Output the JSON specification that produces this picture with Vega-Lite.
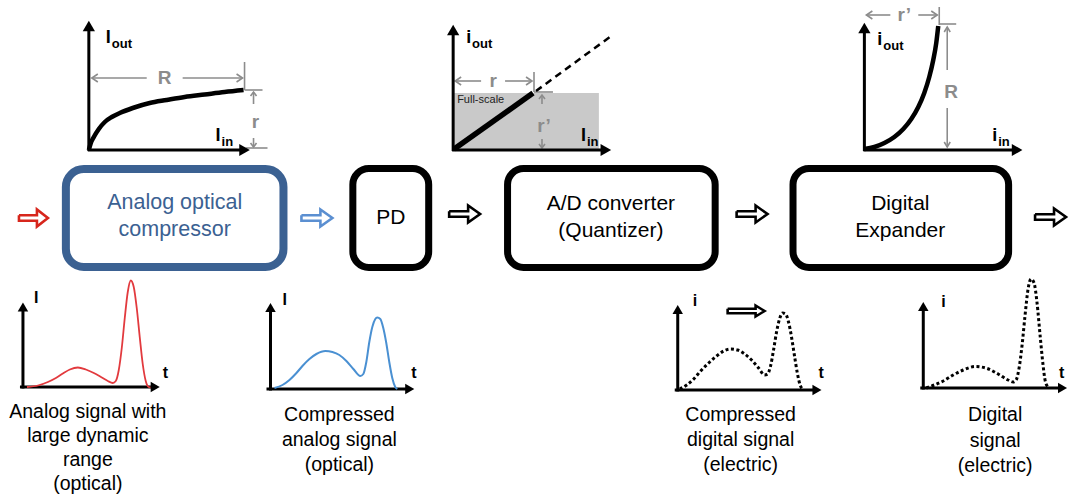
{
  "$schema": "https://vega.github.io/schema/vega-lite/v6.json",
  "width": 1072,
  "height": 500,
  "padding": 0,
  "autosize": {"type": "fit", "contains": "padding"},
  "background": "white",
  "config": {"view": {"stroke": null}, "text": {"font": "Liberation Sans"}},
  "datasets": {
    "boxes": [
      {"g": "gr", "x": 455, "x2": 600, "y": 93, "y2": 150},
      {"g": "bb", "x": 66, "x2": 284, "y": 169, "y2": 267},
      {"g": "bk", "x": 353.5, "x2": 429.5, "y": 168.5, "y2": 267.5},
      {"g": "bk", "x": 508.5, "x2": 716.5, "y": 168.5, "y2": 267.5},
      {"g": "bk", "x": 794.5, "x2": 1010.5, "y": 168.5, "y2": 267.5}
    ],
    "seg": [
      {"g": "ax", "id": "a1", "k": 0, "x": 89, "y": 151}, {"g": "ax", "id": "a1", "k": 1, "x": 89, "y": 30},
      {"g": "ax", "id": "a2", "k": 0, "x": 88, "y": 150}, {"g": "ax", "id": "a2", "k": 1, "x": 241, "y": 150},
      {"g": "ax", "id": "a3", "k": 0, "x": 454, "y": 151}, {"g": "ax", "id": "a3", "k": 1, "x": 454, "y": 34},
      {"g": "ax", "id": "a4", "k": 0, "x": 453, "y": 150}, {"g": "ax", "id": "a4", "k": 1, "x": 603, "y": 150},
      {"g": "ax", "id": "a5", "k": 0, "x": 866, "y": 151}, {"g": "ax", "id": "a5", "k": 1, "x": 866, "y": 32},
      {"g": "ax", "id": "a6", "k": 0, "x": 865, "y": 150}, {"g": "ax", "id": "a6", "k": 1, "x": 1015, "y": 150},
      {"g": "ax", "id": "a7", "k": 0, "x": 23, "y": 388.5}, {"g": "ax", "id": "a7", "k": 1, "x": 23, "y": 310},
      {"g": "ax", "id": "a8", "k": 0, "x": 20, "y": 387}, {"g": "ax", "id": "a8", "k": 1, "x": 152, "y": 387},
      {"g": "ax", "id": "a9", "k": 0, "x": 271, "y": 390.5}, {"g": "ax", "id": "a9", "k": 1, "x": 271, "y": 311},
      {"g": "ax", "id": "a10", "k": 0, "x": 267, "y": 389}, {"g": "ax", "id": "a10", "k": 1, "x": 407, "y": 389},
      {"g": "ax", "id": "a11", "k": 0, "x": 679, "y": 391.5}, {"g": "ax", "id": "a11", "k": 1, "x": 679, "y": 313},
      {"g": "ax", "id": "a12", "k": 0, "x": 676, "y": 390}, {"g": "ax", "id": "a12", "k": 1, "x": 815, "y": 390},
      {"g": "ax", "id": "a13", "k": 0, "x": 925, "y": 389.5}, {"g": "ax", "id": "a13", "k": 1, "x": 925, "y": 310},
      {"g": "ax", "id": "a14", "k": 0, "x": 922, "y": 388}, {"g": "ax", "id": "a14", "k": 1, "x": 1061, "y": 388},

      {"g": "th", "id": "t1", "k": 0, "x": 455, "y": 149}, {"g": "th", "id": "t1", "k": 1, "x": 534, "y": 93},
      {"g": "dash", "id": "d1", "k": 0, "x": 537, "y": 91}, {"g": "dash", "id": "d1", "k": 1, "x": 611, "y": 37},

      {"g": "cv", "id": "c1", "k": 0, "x": 89, "y": 150},
      {"g": "cv", "id": "c1", "k": 1, "x": 91, "y": 143},
      {"g": "cv", "id": "c1", "k": 2, "x": 94, "y": 137},
      {"g": "cv", "id": "c1", "k": 3, "x": 99, "y": 129},
      {"g": "cv", "id": "c1", "k": 4, "x": 105, "y": 122},
      {"g": "cv", "id": "c1", "k": 5, "x": 112, "y": 117},
      {"g": "cv", "id": "c1", "k": 6, "x": 120, "y": 113},
      {"g": "cv", "id": "c1", "k": 7, "x": 133, "y": 108},
      {"g": "cv", "id": "c1", "k": 8, "x": 150, "y": 103},
      {"g": "cv", "id": "c1", "k": 9, "x": 167, "y": 100},
      {"g": "cv", "id": "c1", "k": 10, "x": 185, "y": 97},
      {"g": "cv", "id": "c1", "k": 11, "x": 205, "y": 94.5},
      {"g": "cv", "id": "c1", "k": 12, "x": 225, "y": 92},
      {"g": "cv", "id": "c1", "k": 13, "x": 244, "y": 90},
      {"g": "cv", "id": "c3", "k": 0, "x": 866, "y": 149},
      {"g": "cv", "id": "c3", "k": 1, "x": 876, "y": 147},
      {"g": "cv", "id": "c3", "k": 2, "x": 886, "y": 143},
      {"g": "cv", "id": "c3", "k": 3, "x": 896, "y": 137},
      {"g": "cv", "id": "c3", "k": 4, "x": 905, "y": 129},
      {"g": "cv", "id": "c3", "k": 5, "x": 913, "y": 119},
      {"g": "cv", "id": "c3", "k": 6, "x": 920, "y": 107},
      {"g": "cv", "id": "c3", "k": 7, "x": 926, "y": 93},
      {"g": "cv", "id": "c3", "k": 8, "x": 931, "y": 77},
      {"g": "cv", "id": "c3", "k": 9, "x": 935, "y": 60},
      {"g": "cv", "id": "c3", "k": 10, "x": 938, "y": 43},
      {"g": "cv", "id": "c3", "k": 11, "x": 940, "y": 26},

      {"g": "gray", "id": "g1", "k": 0, "x": 92, "y": 78}, {"g": "gray", "id": "g1", "k": 1, "x": 147, "y": 78},
      {"g": "gray", "id": "g2", "k": 0, "x": 183, "y": 78}, {"g": "gray", "id": "g2", "k": 1, "x": 243, "y": 78},
      {"g": "gray", "id": "g3", "k": 0, "x": 98, "y": 74}, {"g": "gray", "id": "g3", "k": 1, "x": 92, "y": 78}, {"g": "gray", "id": "g3", "k": 2, "x": 98, "y": 82},
      {"g": "gray", "id": "g4", "k": 0, "x": 237, "y": 74}, {"g": "gray", "id": "g4", "k": 1, "x": 243, "y": 78}, {"g": "gray", "id": "g4", "k": 2, "x": 237, "y": 82},
      {"g": "gray", "id": "g5", "k": 0, "x": 245, "y": 62}, {"g": "gray", "id": "g5", "k": 1, "x": 245, "y": 90},
      {"g": "gray", "id": "g6", "k": 0, "x": 245, "y": 90}, {"g": "gray", "id": "g6", "k": 1, "x": 263, "y": 90},
      {"g": "gray", "id": "g7", "k": 0, "x": 246, "y": 148}, {"g": "gray", "id": "g7", "k": 1, "x": 268, "y": 148},
      {"g": "gray", "id": "g8", "k": 0, "x": 254, "y": 104}, {"g": "gray", "id": "g8", "k": 1, "x": 254, "y": 92},
      {"g": "gray", "id": "g9", "k": 0, "x": 251, "y": 96}, {"g": "gray", "id": "g9", "k": 1, "x": 254, "y": 92}, {"g": "gray", "id": "g9", "k": 2, "x": 257, "y": 96},
      {"g": "gray", "id": "g10", "k": 0, "x": 254, "y": 138}, {"g": "gray", "id": "g10", "k": 1, "x": 254, "y": 147},
      {"g": "gray", "id": "g11", "k": 0, "x": 251, "y": 143}, {"g": "gray", "id": "g11", "k": 1, "x": 254, "y": 147}, {"g": "gray", "id": "g11", "k": 2, "x": 257, "y": 143},

      {"g": "gray", "id": "h1", "k": 0, "x": 456, "y": 81}, {"g": "gray", "id": "h1", "k": 1, "x": 482, "y": 81},
      {"g": "gray", "id": "h2", "k": 0, "x": 506, "y": 81}, {"g": "gray", "id": "h2", "k": 1, "x": 533, "y": 81},
      {"g": "gray", "id": "h3", "k": 0, "x": 462, "y": 77}, {"g": "gray", "id": "h3", "k": 1, "x": 456, "y": 81}, {"g": "gray", "id": "h3", "k": 2, "x": 462, "y": 85},
      {"g": "gray", "id": "h4", "k": 0, "x": 527, "y": 77}, {"g": "gray", "id": "h4", "k": 1, "x": 533, "y": 81}, {"g": "gray", "id": "h4", "k": 2, "x": 527, "y": 85},
      {"g": "gray", "id": "h5", "k": 0, "x": 535, "y": 72}, {"g": "gray", "id": "h5", "k": 1, "x": 535, "y": 92},
      {"g": "gray", "id": "h6", "k": 0, "x": 535, "y": 92}, {"g": "gray", "id": "h6", "k": 1, "x": 554, "y": 92},
      {"g": "gray", "id": "h7", "k": 0, "x": 543, "y": 104}, {"g": "gray", "id": "h7", "k": 1, "x": 543, "y": 95},
      {"g": "gray", "id": "h8", "k": 0, "x": 540, "y": 99}, {"g": "gray", "id": "h8", "k": 1, "x": 543, "y": 95}, {"g": "gray", "id": "h8", "k": 2, "x": 546, "y": 99},
      {"g": "gray", "id": "h9", "k": 0, "x": 543, "y": 139}, {"g": "gray", "id": "h9", "k": 1, "x": 543, "y": 148},
      {"g": "gray", "id": "h10", "k": 0, "x": 540, "y": 144}, {"g": "gray", "id": "h10", "k": 1, "x": 543, "y": 148}, {"g": "gray", "id": "h10", "k": 2, "x": 546, "y": 144},

      {"g": "gray", "id": "j1", "k": 0, "x": 868, "y": 15}, {"g": "gray", "id": "j1", "k": 1, "x": 892, "y": 15},
      {"g": "gray", "id": "j2", "k": 0, "x": 920, "y": 15}, {"g": "gray", "id": "j2", "k": 1, "x": 939, "y": 15},
      {"g": "gray", "id": "j3", "k": 0, "x": 874, "y": 11}, {"g": "gray", "id": "j3", "k": 1, "x": 868, "y": 15}, {"g": "gray", "id": "j3", "k": 2, "x": 874, "y": 19},
      {"g": "gray", "id": "j4", "k": 0, "x": 933, "y": 11}, {"g": "gray", "id": "j4", "k": 1, "x": 939, "y": 15}, {"g": "gray", "id": "j4", "k": 2, "x": 933, "y": 19},
      {"g": "gray", "id": "j5", "k": 0, "x": 941, "y": 7}, {"g": "gray", "id": "j5", "k": 1, "x": 941, "y": 25},
      {"g": "gray", "id": "j6", "k": 0, "x": 941, "y": 24}, {"g": "gray", "id": "j6", "k": 1, "x": 958, "y": 24},
      {"g": "gray", "id": "j7", "k": 0, "x": 949, "y": 70}, {"g": "gray", "id": "j7", "k": 1, "x": 949, "y": 27},
      {"g": "gray", "id": "j8", "k": 0, "x": 946, "y": 32}, {"g": "gray", "id": "j8", "k": 1, "x": 949, "y": 27}, {"g": "gray", "id": "j8", "k": 2, "x": 952, "y": 32},
      {"g": "gray", "id": "j9", "k": 0, "x": 949, "y": 108}, {"g": "gray", "id": "j9", "k": 1, "x": 949, "y": 147},
      {"g": "gray", "id": "j10", "k": 0, "x": 946, "y": 142}, {"g": "gray", "id": "j10", "k": 1, "x": 949, "y": 147}, {"g": "gray", "id": "j10", "k": 2, "x": 952, "y": 142},

      {"g": "ar", "id": "r1", "k": 0, "x": 19, "y": 215.2}, {"g": "ar", "id": "r1", "k": 1, "x": 37, "y": 215.2}, {"g": "ar", "id": "r1", "k": 2, "x": 37, "y": 209.5}, {"g": "ar", "id": "r1", "k": 3, "x": 48, "y": 218}, {"g": "ar", "id": "r1", "k": 4, "x": 37, "y": 226.5}, {"g": "ar", "id": "r1", "k": 5, "x": 37, "y": 220.8}, {"g": "ar", "id": "r1", "k": 6, "x": 19, "y": 220.8}, {"g": "ar", "id": "r1", "k": 7, "x": 19, "y": 215.2},
      {"g": "ab", "id": "b1", "k": 0, "x": 302, "y": 215.2}, {"g": "ab", "id": "b1", "k": 1, "x": 321, "y": 215.2}, {"g": "ab", "id": "b1", "k": 2, "x": 321, "y": 209.5}, {"g": "ab", "id": "b1", "k": 3, "x": 333, "y": 218}, {"g": "ab", "id": "b1", "k": 4, "x": 321, "y": 226.5}, {"g": "ab", "id": "b1", "k": 5, "x": 321, "y": 220.8}, {"g": "ab", "id": "b1", "k": 6, "x": 302, "y": 220.8}, {"g": "ab", "id": "b1", "k": 7, "x": 302, "y": 215.2},
      {"g": "ak", "id": "k1", "k": 0, "x": 450, "y": 211.2}, {"g": "ak", "id": "k1", "k": 1, "x": 469, "y": 211.2}, {"g": "ak", "id": "k1", "k": 2, "x": 469, "y": 205.5}, {"g": "ak", "id": "k1", "k": 3, "x": 481, "y": 214}, {"g": "ak", "id": "k1", "k": 4, "x": 469, "y": 222.5}, {"g": "ak", "id": "k1", "k": 5, "x": 469, "y": 216.8}, {"g": "ak", "id": "k1", "k": 6, "x": 450, "y": 216.8}, {"g": "ak", "id": "k1", "k": 7, "x": 450, "y": 211.2},
      {"g": "ak", "id": "k2", "k": 0, "x": 738, "y": 211.2}, {"g": "ak", "id": "k2", "k": 1, "x": 757, "y": 211.2}, {"g": "ak", "id": "k2", "k": 2, "x": 757, "y": 205.5}, {"g": "ak", "id": "k2", "k": 3, "x": 769, "y": 214}, {"g": "ak", "id": "k2", "k": 4, "x": 757, "y": 222.5}, {"g": "ak", "id": "k2", "k": 5, "x": 757, "y": 216.8}, {"g": "ak", "id": "k2", "k": 6, "x": 738, "y": 216.8}, {"g": "ak", "id": "k2", "k": 7, "x": 738, "y": 211.2},
      {"g": "ak", "id": "k3", "k": 0, "x": 1037, "y": 214.2}, {"g": "ak", "id": "k3", "k": 1, "x": 1056, "y": 214.2}, {"g": "ak", "id": "k3", "k": 2, "x": 1056, "y": 208.5}, {"g": "ak", "id": "k3", "k": 3, "x": 1068, "y": 217}, {"g": "ak", "id": "k3", "k": 4, "x": 1056, "y": 225.5}, {"g": "ak", "id": "k3", "k": 5, "x": 1056, "y": 219.8}, {"g": "ak", "id": "k3", "k": 6, "x": 1037, "y": 219.8}, {"g": "ak", "id": "k3", "k": 7, "x": 1037, "y": 214.2},
      {"g": "ak", "id": "k4", "k": 0, "x": 729, "y": 308.8}, {"g": "ak", "id": "k4", "k": 1, "x": 757, "y": 308.8}, {"g": "ak", "id": "k4", "k": 2, "x": 757, "y": 305.5}, {"g": "ak", "id": "k4", "k": 3, "x": 766, "y": 311}, {"g": "ak", "id": "k4", "k": 4, "x": 757, "y": 316.5}, {"g": "ak", "id": "k4", "k": 5, "x": 757, "y": 313.2}, {"g": "ak", "id": "k4", "k": 6, "x": 729, "y": 313.2}, {"g": "ak", "id": "k4", "k": 7, "x": 729, "y": 308.8},

      {"g": "sr", "id": "sA", "k": 0, "x": 27, "y": 387},
      {"g": "sr", "id": "sA", "k": 1, "x": 38, "y": 385.5},
      {"g": "sr", "id": "sA", "k": 2, "x": 48, "y": 382},
      {"g": "sr", "id": "sA", "k": 3, "x": 56, "y": 378},
      {"g": "sr", "id": "sA", "k": 4, "x": 63, "y": 373.5},
      {"g": "sr", "id": "sA", "k": 5, "x": 70, "y": 369.5},
      {"g": "sr", "id": "sA", "k": 6, "x": 78, "y": 367.5},
      {"g": "sr", "id": "sA", "k": 7, "x": 86, "y": 369.5},
      {"g": "sr", "id": "sA", "k": 8, "x": 94, "y": 373},
      {"g": "sr", "id": "sA", "k": 9, "x": 102, "y": 377.5},
      {"g": "sr", "id": "sA", "k": 10, "x": 108, "y": 381},
      {"g": "sr", "id": "sA", "k": 11, "x": 113, "y": 383},
      {"g": "sr", "id": "sA", "k": 12, "x": 116, "y": 381},
      {"g": "sr", "id": "sA", "k": 13, "x": 119, "y": 370},
      {"g": "sr", "id": "sA", "k": 14, "x": 122, "y": 348},
      {"g": "sr", "id": "sA", "k": 15, "x": 125, "y": 318},
      {"g": "sr", "id": "sA", "k": 16, "x": 128, "y": 292},
      {"g": "sr", "id": "sA", "k": 17, "x": 131, "y": 280.5},
      {"g": "sr", "id": "sA", "k": 18, "x": 134, "y": 287},
      {"g": "sr", "id": "sA", "k": 19, "x": 137, "y": 308},
      {"g": "sr", "id": "sA", "k": 20, "x": 140, "y": 337},
      {"g": "sr", "id": "sA", "k": 21, "x": 143, "y": 364},
      {"g": "sr", "id": "sA", "k": 22, "x": 146, "y": 381},
      {"g": "sr", "id": "sA", "k": 23, "x": 149, "y": 387},
      {"g": "sr", "id": "sA", "k": 24, "x": 151, "y": 387.5},

      {"g": "sb", "id": "sB", "k": 0, "x": 275, "y": 388},
      {"g": "sb", "id": "sB", "k": 1, "x": 283, "y": 385},
      {"g": "sb", "id": "sB", "k": 2, "x": 290, "y": 380},
      {"g": "sb", "id": "sB", "k": 3, "x": 297, "y": 373},
      {"g": "sb", "id": "sB", "k": 4, "x": 303, "y": 366},
      {"g": "sb", "id": "sB", "k": 5, "x": 310, "y": 359},
      {"g": "sb", "id": "sB", "k": 6, "x": 317, "y": 354},
      {"g": "sb", "id": "sB", "k": 7, "x": 326, "y": 351},
      {"g": "sb", "id": "sB", "k": 8, "x": 333, "y": 352},
      {"g": "sb", "id": "sB", "k": 9, "x": 340, "y": 355},
      {"g": "sb", "id": "sB", "k": 10, "x": 347, "y": 361},
      {"g": "sb", "id": "sB", "k": 11, "x": 354, "y": 369},
      {"g": "sb", "id": "sB", "k": 12, "x": 361, "y": 376},
      {"g": "sb", "id": "sB", "k": 13, "x": 364, "y": 374},
      {"g": "sb", "id": "sB", "k": 14, "x": 367, "y": 362},
      {"g": "sb", "id": "sB", "k": 15, "x": 370, "y": 342},
      {"g": "sb", "id": "sB", "k": 16, "x": 373, "y": 327},
      {"g": "sb", "id": "sB", "k": 17, "x": 376, "y": 319},
      {"g": "sb", "id": "sB", "k": 18, "x": 378, "y": 317.5},
      {"g": "sb", "id": "sB", "k": 19, "x": 381, "y": 319},
      {"g": "sb", "id": "sB", "k": 20, "x": 384, "y": 328},
      {"g": "sb", "id": "sB", "k": 21, "x": 387, "y": 343},
      {"g": "sb", "id": "sB", "k": 22, "x": 390, "y": 362},
      {"g": "sb", "id": "sB", "k": 23, "x": 393, "y": 378},
      {"g": "sb", "id": "sB", "k": 24, "x": 396, "y": 387},
      {"g": "sb", "id": "sB", "k": 25, "x": 398, "y": 389},

      {"g": "sd", "id": "sC", "k": 0, "x": 681, "y": 389},
      {"g": "sd", "id": "sC", "k": 1, "x": 688, "y": 385},
      {"g": "sd", "id": "sC", "k": 2, "x": 695, "y": 379},
      {"g": "sd", "id": "sC", "k": 3, "x": 702, "y": 371},
      {"g": "sd", "id": "sC", "k": 4, "x": 710, "y": 363},
      {"g": "sd", "id": "sC", "k": 5, "x": 718, "y": 356},
      {"g": "sd", "id": "sC", "k": 6, "x": 725, "y": 351},
      {"g": "sd", "id": "sC", "k": 7, "x": 732, "y": 349},
      {"g": "sd", "id": "sC", "k": 8, "x": 739, "y": 350},
      {"g": "sd", "id": "sC", "k": 9, "x": 746, "y": 354},
      {"g": "sd", "id": "sC", "k": 10, "x": 753, "y": 360},
      {"g": "sd", "id": "sC", "k": 11, "x": 760, "y": 368},
      {"g": "sd", "id": "sC", "k": 12, "x": 766, "y": 375},
      {"g": "sd", "id": "sC", "k": 13, "x": 769, "y": 374},
      {"g": "sd", "id": "sC", "k": 14, "x": 772, "y": 366},
      {"g": "sd", "id": "sC", "k": 15, "x": 775, "y": 350},
      {"g": "sd", "id": "sC", "k": 16, "x": 778, "y": 332},
      {"g": "sd", "id": "sC", "k": 17, "x": 781, "y": 319},
      {"g": "sd", "id": "sC", "k": 18, "x": 784, "y": 313},
      {"g": "sd", "id": "sC", "k": 19, "x": 787, "y": 314},
      {"g": "sd", "id": "sC", "k": 20, "x": 790, "y": 322},
      {"g": "sd", "id": "sC", "k": 21, "x": 793, "y": 337},
      {"g": "sd", "id": "sC", "k": 22, "x": 796, "y": 356},
      {"g": "sd", "id": "sC", "k": 23, "x": 799, "y": 374},
      {"g": "sd", "id": "sC", "k": 24, "x": 802, "y": 386},
      {"g": "sd", "id": "sC", "k": 25, "x": 804, "y": 389},

      {"g": "sd", "id": "sD", "k": 0, "x": 928, "y": 388},
      {"g": "sd", "id": "sD", "k": 1, "x": 936, "y": 385},
      {"g": "sd", "id": "sD", "k": 2, "x": 945, "y": 381},
      {"g": "sd", "id": "sD", "k": 3, "x": 955, "y": 375},
      {"g": "sd", "id": "sD", "k": 4, "x": 965, "y": 370},
      {"g": "sd", "id": "sD", "k": 5, "x": 977, "y": 366.5},
      {"g": "sd", "id": "sD", "k": 6, "x": 989, "y": 368.5},
      {"g": "sd", "id": "sD", "k": 7, "x": 1000, "y": 374},
      {"g": "sd", "id": "sD", "k": 8, "x": 1010, "y": 380},
      {"g": "sd", "id": "sD", "k": 9, "x": 1015, "y": 382},
      {"g": "sd", "id": "sD", "k": 10, "x": 1018, "y": 380},
      {"g": "sd", "id": "sD", "k": 11, "x": 1021, "y": 368},
      {"g": "sd", "id": "sD", "k": 12, "x": 1024, "y": 345},
      {"g": "sd", "id": "sD", "k": 13, "x": 1027, "y": 315},
      {"g": "sd", "id": "sD", "k": 14, "x": 1030, "y": 289},
      {"g": "sd", "id": "sD", "k": 15, "x": 1033, "y": 279},
      {"g": "sd", "id": "sD", "k": 16, "x": 1036, "y": 283},
      {"g": "sd", "id": "sD", "k": 17, "x": 1039, "y": 303},
      {"g": "sd", "id": "sD", "k": 18, "x": 1042, "y": 335},
      {"g": "sd", "id": "sD", "k": 19, "x": 1045, "y": 365},
      {"g": "sd", "id": "sD", "k": 20, "x": 1047, "y": 380},
      {"g": "sd", "id": "sD", "k": 21, "x": 1050, "y": 387}
    ],
    "heads": [
      {"g": "big", "dir": "up", "x": 89, "y": 26},
      {"g": "big", "dir": "right", "x": 245, "y": 150},
      {"g": "big", "dir": "up", "x": 454, "y": 30},
      {"g": "big", "dir": "right", "x": 607, "y": 150},
      {"g": "big", "dir": "up", "x": 866, "y": 28},
      {"g": "big", "dir": "right", "x": 1019, "y": 150},
      {"g": "small", "dir": "up", "x": 23, "y": 307},
      {"g": "small", "dir": "right", "x": 155.5, "y": 387},
      {"g": "small", "dir": "up", "x": 271, "y": 307.5},
      {"g": "small", "dir": "right", "x": 410.5, "y": 389},
      {"g": "small", "dir": "up", "x": 679, "y": 309.5},
      {"g": "small", "dir": "right", "x": 818.5, "y": 390},
      {"g": "small", "dir": "up", "x": 925, "y": 306.5},
      {"g": "small", "dir": "right", "x": 1064.5, "y": 388}
    ],
    "texts": [
      {"g": "boxBlue", "x": 175, "y": 203, "s": "Analog optical"},
      {"g": "boxBlue", "x": 175, "y": 230, "s": "compressor"},
      {"g": "box", "x": 391.5, "y": 218, "s": "PD"},
      {"g": "box", "x": 612, "y": 204, "s": "A/D converter"},
      {"g": "box", "x": 612, "y": 231, "s": "(Quantizer)"},
      {"g": "box", "x": 902, "y": 204, "s": "Digital"},
      {"g": "box", "x": 902, "y": 231, "s": "Expander"},
      {"g": "lab", "x": 88, "y": 412, "s": "Analog signal with"},
      {"g": "lab", "x": 88, "y": 436, "s": "large dynamic"},
      {"g": "lab", "x": 88, "y": 460, "s": "range"},
      {"g": "lab", "x": 88, "y": 484, "s": "(optical)"},
      {"g": "lab", "x": 340, "y": 415, "s": "Compressed"},
      {"g": "lab", "x": 340, "y": 440, "s": "analog signal"},
      {"g": "lab", "x": 340, "y": 465, "s": "(optical)"},
      {"g": "lab", "x": 742, "y": 415, "s": "Compressed"},
      {"g": "lab", "x": 742, "y": 440, "s": "digital signal"},
      {"g": "lab", "x": 742, "y": 465, "s": "(electric)"},
      {"g": "lab", "x": 997, "y": 415, "s": "Digital"},
      {"g": "lab", "x": 997, "y": 441, "s": "signal"},
      {"g": "lab", "x": 997, "y": 466, "s": "(electric)"},
      {"g": "axT", "x": 106, "y": 43, "s": "I"},
      {"g": "axT", "x": 467, "y": 43, "s": "i"},
      {"g": "axT", "x": 879, "y": 45, "s": "i"},
      {"g": "axT", "x": 216, "y": 141, "s": "I"},
      {"g": "axT", "x": 582, "y": 141, "s": "I"},
      {"g": "axT", "x": 994, "y": 141, "s": "i"},
      {"g": "sub", "x": 112, "y": 48, "s": "out"},
      {"g": "sub", "x": 473, "y": 48, "s": "out"},
      {"g": "sub", "x": 885, "y": 50, "s": "out"},
      {"g": "sub", "x": 222, "y": 146, "s": "in"},
      {"g": "sub", "x": 588, "y": 146, "s": "in"},
      {"g": "sub", "x": 1000, "y": 146, "s": "in"},
      {"g": "axB", "x": 34, "y": 303, "s": "I"},
      {"g": "axB", "x": 163, "y": 378, "s": "t"},
      {"g": "axB", "x": 283, "y": 305, "s": "I"},
      {"g": "axB", "x": 412, "y": 378, "s": "t"},
      {"g": "axB", "x": 694, "y": 306, "s": "i"},
      {"g": "axB", "x": 820, "y": 378, "s": "t"},
      {"g": "axB", "x": 943, "y": 307, "s": "i"},
      {"g": "axB", "x": 1061, "y": 378, "s": "t"},
      {"g": "gray", "x": 165, "y": 78, "s": "R"},
      {"g": "gray", "x": 256, "y": 122, "s": "r"},
      {"g": "gray", "x": 494, "y": 81, "s": "r"},
      {"g": "gray", "x": 545, "y": 126, "s": "r’"},
      {"g": "gray", "x": 906, "y": 15, "s": "r’"},
      {"g": "gray", "x": 953, "y": 92, "s": "R"},
      {"g": "small", "x": 458, "y": 100, "s": "Full-scale"}
    ]
  },
  "encoding": {
    "x": {"field": "x", "type": "quantitative", "scale": {"domain": [0, 1072], "nice": false, "zero": false}, "axis": null},
    "y": {"field": "y", "type": "quantitative", "scale": {"domain": [0, 500], "nice": false, "zero": false, "reverse": true}, "axis": null}
  },
  "layer": [
    {
      "data": {"name": "boxes"},
      "transform": [{"filter": "datum.g == 'gr'"}],
      "mark": {"type": "rect", "fill": "#c9c9c9", "stroke": null},
      "encoding": {"x2": {"field": "x2"}, "y2": {"field": "y2"}}
    },
    {
      "data": {"name": "boxes"},
      "transform": [{"filter": "datum.g == 'bb'"}],
      "mark": {"type": "rect", "fill": "white", "stroke": "#3b6192", "strokeWidth": 8, "cornerRadius": 18},
      "encoding": {"x2": {"field": "x2"}, "y2": {"field": "y2"}}
    },
    {
      "data": {"name": "boxes"},
      "transform": [{"filter": "datum.g == 'bk'"}],
      "mark": {"type": "rect", "fill": "white", "stroke": "black", "strokeWidth": 7, "cornerRadius": 16},
      "encoding": {"x2": {"field": "x2"}, "y2": {"field": "y2"}}
    },
    {
      "data": {"name": "seg"},
      "transform": [{"filter": "datum.g == 'gray'"}],
      "mark": {"type": "line", "stroke": "#8c8c8c", "strokeWidth": 1.6},
      "encoding": {"detail": {"field": "id"}, "order": {"field": "k", "type": "quantitative"}}
    },
    {
      "data": {"name": "seg"},
      "transform": [{"filter": "datum.g == 'ax'"}],
      "mark": {"type": "line", "stroke": "black", "strokeWidth": 3},
      "encoding": {"detail": {"field": "id"}, "order": {"field": "k", "type": "quantitative"}}
    },
    {
      "data": {"name": "seg"},
      "transform": [{"filter": "datum.g == 'th'"}],
      "mark": {"type": "line", "stroke": "black", "strokeWidth": 5.5},
      "encoding": {"detail": {"field": "id"}, "order": {"field": "k", "type": "quantitative"}}
    },
    {
      "data": {"name": "seg"},
      "transform": [{"filter": "datum.g == 'dash'"}],
      "mark": {"type": "line", "stroke": "black", "strokeWidth": 2.5, "strokeDash": [7, 5]},
      "encoding": {"detail": {"field": "id"}, "order": {"field": "k", "type": "quantitative"}}
    },
    {
      "data": {"name": "seg"},
      "transform": [{"filter": "datum.g == 'cv'"}],
      "mark": {"type": "line", "stroke": "black", "strokeWidth": 4.5, "interpolate": "monotone"},
      "encoding": {"detail": {"field": "id"}, "order": {"field": "k", "type": "quantitative"}}
    },
    {
      "data": {"name": "seg"},
      "transform": [{"filter": "datum.g == 'ar'"}],
      "mark": {"type": "line", "stroke": "#d7261c", "strokeWidth": 2.6, "strokeJoin": "miter"},
      "encoding": {"detail": {"field": "id"}, "order": {"field": "k", "type": "quantitative"}}
    },
    {
      "data": {"name": "seg"},
      "transform": [{"filter": "datum.g == 'ab'"}],
      "mark": {"type": "line", "stroke": "#5b8fd1", "strokeWidth": 2.6, "strokeJoin": "miter"},
      "encoding": {"detail": {"field": "id"}, "order": {"field": "k", "type": "quantitative"}}
    },
    {
      "data": {"name": "seg"},
      "transform": [{"filter": "datum.g == 'ak'"}],
      "mark": {"type": "line", "stroke": "black", "strokeWidth": 2.6, "strokeJoin": "miter"},
      "encoding": {"detail": {"field": "id"}, "order": {"field": "k", "type": "quantitative"}}
    },
    {
      "data": {"name": "seg"},
      "transform": [{"filter": "datum.g == 'sr'"}],
      "mark": {"type": "line", "stroke": "#e23a3e", "strokeWidth": 1.8, "interpolate": "monotone"},
      "encoding": {"detail": {"field": "id"}, "order": {"field": "k", "type": "quantitative"}}
    },
    {
      "data": {"name": "seg"},
      "transform": [{"filter": "datum.g == 'sb'"}],
      "mark": {"type": "line", "stroke": "#4a90d2", "strokeWidth": 2, "interpolate": "monotone"},
      "encoding": {"detail": {"field": "id"}, "order": {"field": "k", "type": "quantitative"}}
    },
    {
      "data": {"name": "seg"},
      "transform": [{"filter": "datum.g == 'sd'"}],
      "mark": {"type": "line", "stroke": "black", "strokeWidth": 3, "strokeDash": [3, 2.5], "strokeCap": "butt", "interpolate": "monotone"},
      "encoding": {"detail": {"field": "id"}, "order": {"field": "k", "type": "quantitative"}}
    },
    {
      "data": {"name": "heads"},
      "transform": [{"filter": "datum.g == 'big'"}],
      "mark": {"type": "point", "filled": true, "color": "black", "opacity": 1, "size": 150},
      "encoding": {"shape": {"field": "dir", "type": "nominal", "scale": {"domain": ["up", "right"], "range": ["triangle-up", "triangle-right"]}, "legend": null}}
    },
    {
      "data": {"name": "heads"},
      "transform": [{"filter": "datum.g == 'small'"}],
      "mark": {"type": "point", "filled": true, "color": "black", "opacity": 1, "size": 110},
      "encoding": {"shape": {"field": "dir", "type": "nominal", "scale": {"domain": ["up", "right"], "range": ["triangle-up", "triangle-right"]}, "legend": null}}
    },
    {
      "data": {"name": "texts"},
      "transform": [{"filter": "datum.g == 'boxBlue'"}],
      "mark": {"type": "text", "fontSize": 21.5, "color": "#3b6192", "align": "center", "baseline": "middle"},
      "encoding": {"text": {"field": "s"}}
    },
    {
      "data": {"name": "texts"},
      "transform": [{"filter": "datum.g == 'box'"}],
      "mark": {"type": "text", "fontSize": 21, "color": "black", "align": "center", "baseline": "middle"},
      "encoding": {"text": {"field": "s"}}
    },
    {
      "data": {"name": "texts"},
      "transform": [{"filter": "datum.g == 'lab'"}],
      "mark": {"type": "text", "fontSize": 19.5, "color": "black", "align": "center", "baseline": "middle"},
      "encoding": {"text": {"field": "s"}}
    },
    {
      "data": {"name": "texts"},
      "transform": [{"filter": "datum.g == 'axT'"}],
      "mark": {"type": "text", "fontSize": 18, "fontWeight": "bold", "color": "black", "align": "left", "baseline": "alphabetic"},
      "encoding": {"text": {"field": "s"}}
    },
    {
      "data": {"name": "texts"},
      "transform": [{"filter": "datum.g == 'sub'"}],
      "mark": {"type": "text", "fontSize": 13, "fontWeight": "bold", "color": "black", "align": "left", "baseline": "alphabetic"},
      "encoding": {"text": {"field": "s"}}
    },
    {
      "data": {"name": "texts"},
      "transform": [{"filter": "datum.g == 'axB'"}],
      "mark": {"type": "text", "fontSize": 16, "fontWeight": "bold", "color": "black", "align": "left", "baseline": "alphabetic"},
      "encoding": {"text": {"field": "s"}}
    },
    {
      "data": {"name": "texts"},
      "transform": [{"filter": "datum.g == 'gray'"}],
      "mark": {"type": "text", "fontSize": 19, "fontWeight": "bold", "color": "#8c8c8c", "align": "center", "baseline": "middle"},
      "encoding": {"text": {"field": "s"}}
    },
    {
      "data": {"name": "texts"},
      "transform": [{"filter": "datum.g == 'small'"}],
      "mark": {"type": "text", "fontSize": 11, "color": "#222222", "align": "left", "baseline": "middle"},
      "encoding": {"text": {"field": "s"}}
    }
  ]
}
